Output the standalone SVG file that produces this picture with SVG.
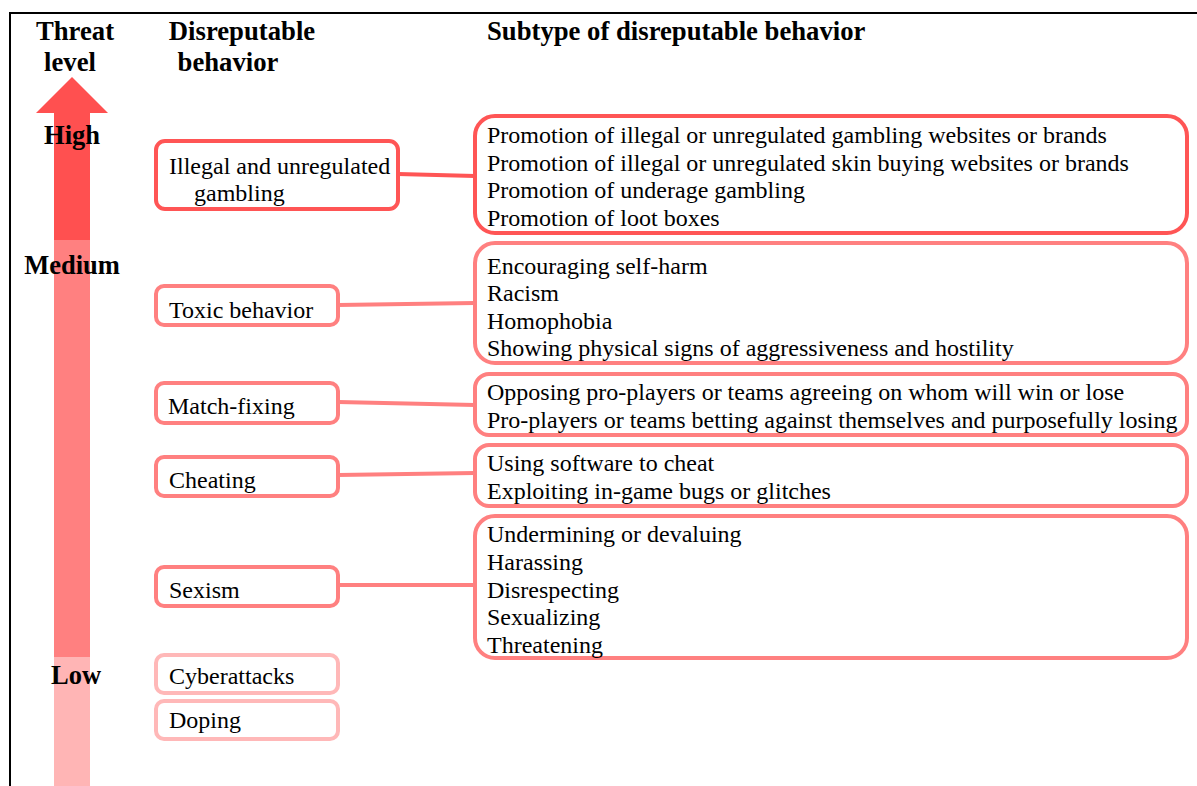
<svg xmlns="http://www.w3.org/2000/svg" width="1197" height="786" viewBox="0 0 1197 786">
<style>
text{font-family:"Liberation Serif","Times New Roman",serif;fill:#000}
.h{font-weight:bold;font-size:26.7px}
.t{font-size:24px}
.lv{font-weight:bold;font-size:26.5px}
.hi{fill:none;stroke:#FF5555;stroke-width:4}
.md{fill:none;stroke:#FF8080;stroke-width:4}
.lo{fill:none;stroke:#FFB8B8;stroke-width:4}
.c1{stroke:#FF5555;stroke-width:4}
.c2{stroke:#FF8080;stroke-width:4}
</style>
<rect width="1197" height="786" fill="#fff"/>
<g id="frame" stroke="#000" stroke-width="2">
<line x1="9" y1="13" x2="1197" y2="13"/>
<line x1="10" y1="13" x2="10" y2="786"/>
</g>
<g id="arrow">
<rect x="54" y="657" width="36" height="129" fill="#FFB5B5"/>
<rect x="54" y="240" width="36" height="417" fill="#FF8080"/>
<rect x="54" y="112" width="36" height="128" fill="#FF5050"/>
<polygon points="72,77 108,113 36,113" fill="#FF5050"/>
</g>
<g id="headers">
<text class="h" x="75" y="40" text-anchor="middle">Threat</text>
<text class="h" x="70" y="71" text-anchor="middle">level</text>
<text class="h" x="242" y="40" text-anchor="middle">Disreputable</text>
<text class="h" x="228" y="71" text-anchor="middle">behavior</text>
<text class="h" x="487" y="40">Subtype of disreputable behavior</text>
</g>
<g id="levels">
<text class="lv" x="72" y="144" text-anchor="middle">High</text>
<text class="lv" x="72" y="274" text-anchor="middle">Medium</text>
<text class="lv" x="76" y="684" text-anchor="middle">Low</text>
</g>
<g id="connectors">
<line class="c1" x1="398" y1="174" x2="475" y2="176"/>
<line class="c2" x1="338" y1="305" x2="475" y2="303"/>
<line class="c2" x1="338" y1="402" x2="475" y2="405"/>
<line class="c2" x1="338" y1="475" x2="475" y2="473"/>
<line class="c2" x1="338" y1="585" x2="475" y2="585"/>
</g>
<g id="n-gambling">
<rect class="hi" x="156" y="141" width="242" height="68" rx="9"/>
<text class="t" x="169" y="174">Illegal and unregulated</text>
<text class="t" x="194" y="201">gambling</text>
</g>
<g id="n-toxic">
<rect class="md" x="156" y="286" width="182" height="39" rx="8"/>
<text class="t" x="169" y="318">Toxic behavior</text>
</g>
<g id="n-match">
<rect class="md" x="156" y="383" width="182" height="40" rx="8"/>
<text class="t" x="168" y="414">Match-fixing</text>
</g>
<g id="n-cheating">
<rect class="md" x="156" y="457" width="182" height="39" rx="8"/>
<text class="t" x="169" y="488">Cheating</text>
</g>
<g id="n-sexism">
<rect class="md" x="156" y="567" width="182" height="39" rx="8"/>
<text class="t" x="169" y="598">Sexism</text>
</g>
<g id="n-cyber">
<rect class="lo" x="156" y="655" width="182" height="38" rx="8"/>
<text class="t" x="169" y="684">Cyberattacks</text>
</g>
<g id="n-doping">
<rect class="lo" x="156" y="701" width="182" height="38" rx="8"/>
<text class="t" x="169" y="728">Doping</text>
</g>
<g id="s-gambling">
<rect class="hi" x="475" y="116" width="712" height="117" rx="20"/>
<text class="t" x="487" y="143">Promotion of illegal or unregulated gambling websites or brands</text>
<text class="t" x="487" y="171">Promotion of illegal or unregulated skin buying websites or brands</text>
<text class="t" x="487" y="198">Promotion of underage gambling</text>
<text class="t" x="487" y="226">Promotion of loot boxes</text>
</g>
<g id="s-toxic">
<rect class="md" x="475" y="243" width="712" height="120" rx="20"/>
<text class="t" x="487" y="274">Encouraging self-harm</text>
<text class="t" x="487" y="301">Racism</text>
<text class="t" x="487" y="329">Homophobia</text>
<text class="t" x="487" y="356">Showing physical signs of aggressiveness and hostility</text>
</g>
<g id="s-match">
<rect class="md" x="475" y="374" width="712" height="61" rx="14"/>
<text class="t" x="487" y="400">Opposing pro-players or teams agreeing on whom will win or lose</text>
<text class="t" x="487" y="428">Pro-players or teams betting against themselves and purposefully losing</text>
</g>
<g id="s-cheating">
<rect class="md" x="475" y="445" width="712" height="61" rx="14"/>
<text class="t" x="487" y="471">Using software to cheat</text>
<text class="t" x="487" y="499">Exploiting in-game bugs or glitches</text>
</g>
<g id="s-sexism">
<rect class="md" x="475" y="516" width="712" height="142" rx="20"/>
<text class="t" x="487" y="542">Undermining or devaluing</text>
<text class="t" x="487" y="570">Harassing</text>
<text class="t" x="487" y="598">Disrespecting</text>
<text class="t" x="487" y="625">Sexualizing</text>
<text class="t" x="487" y="653">Threatening</text>
</g>
</svg>
